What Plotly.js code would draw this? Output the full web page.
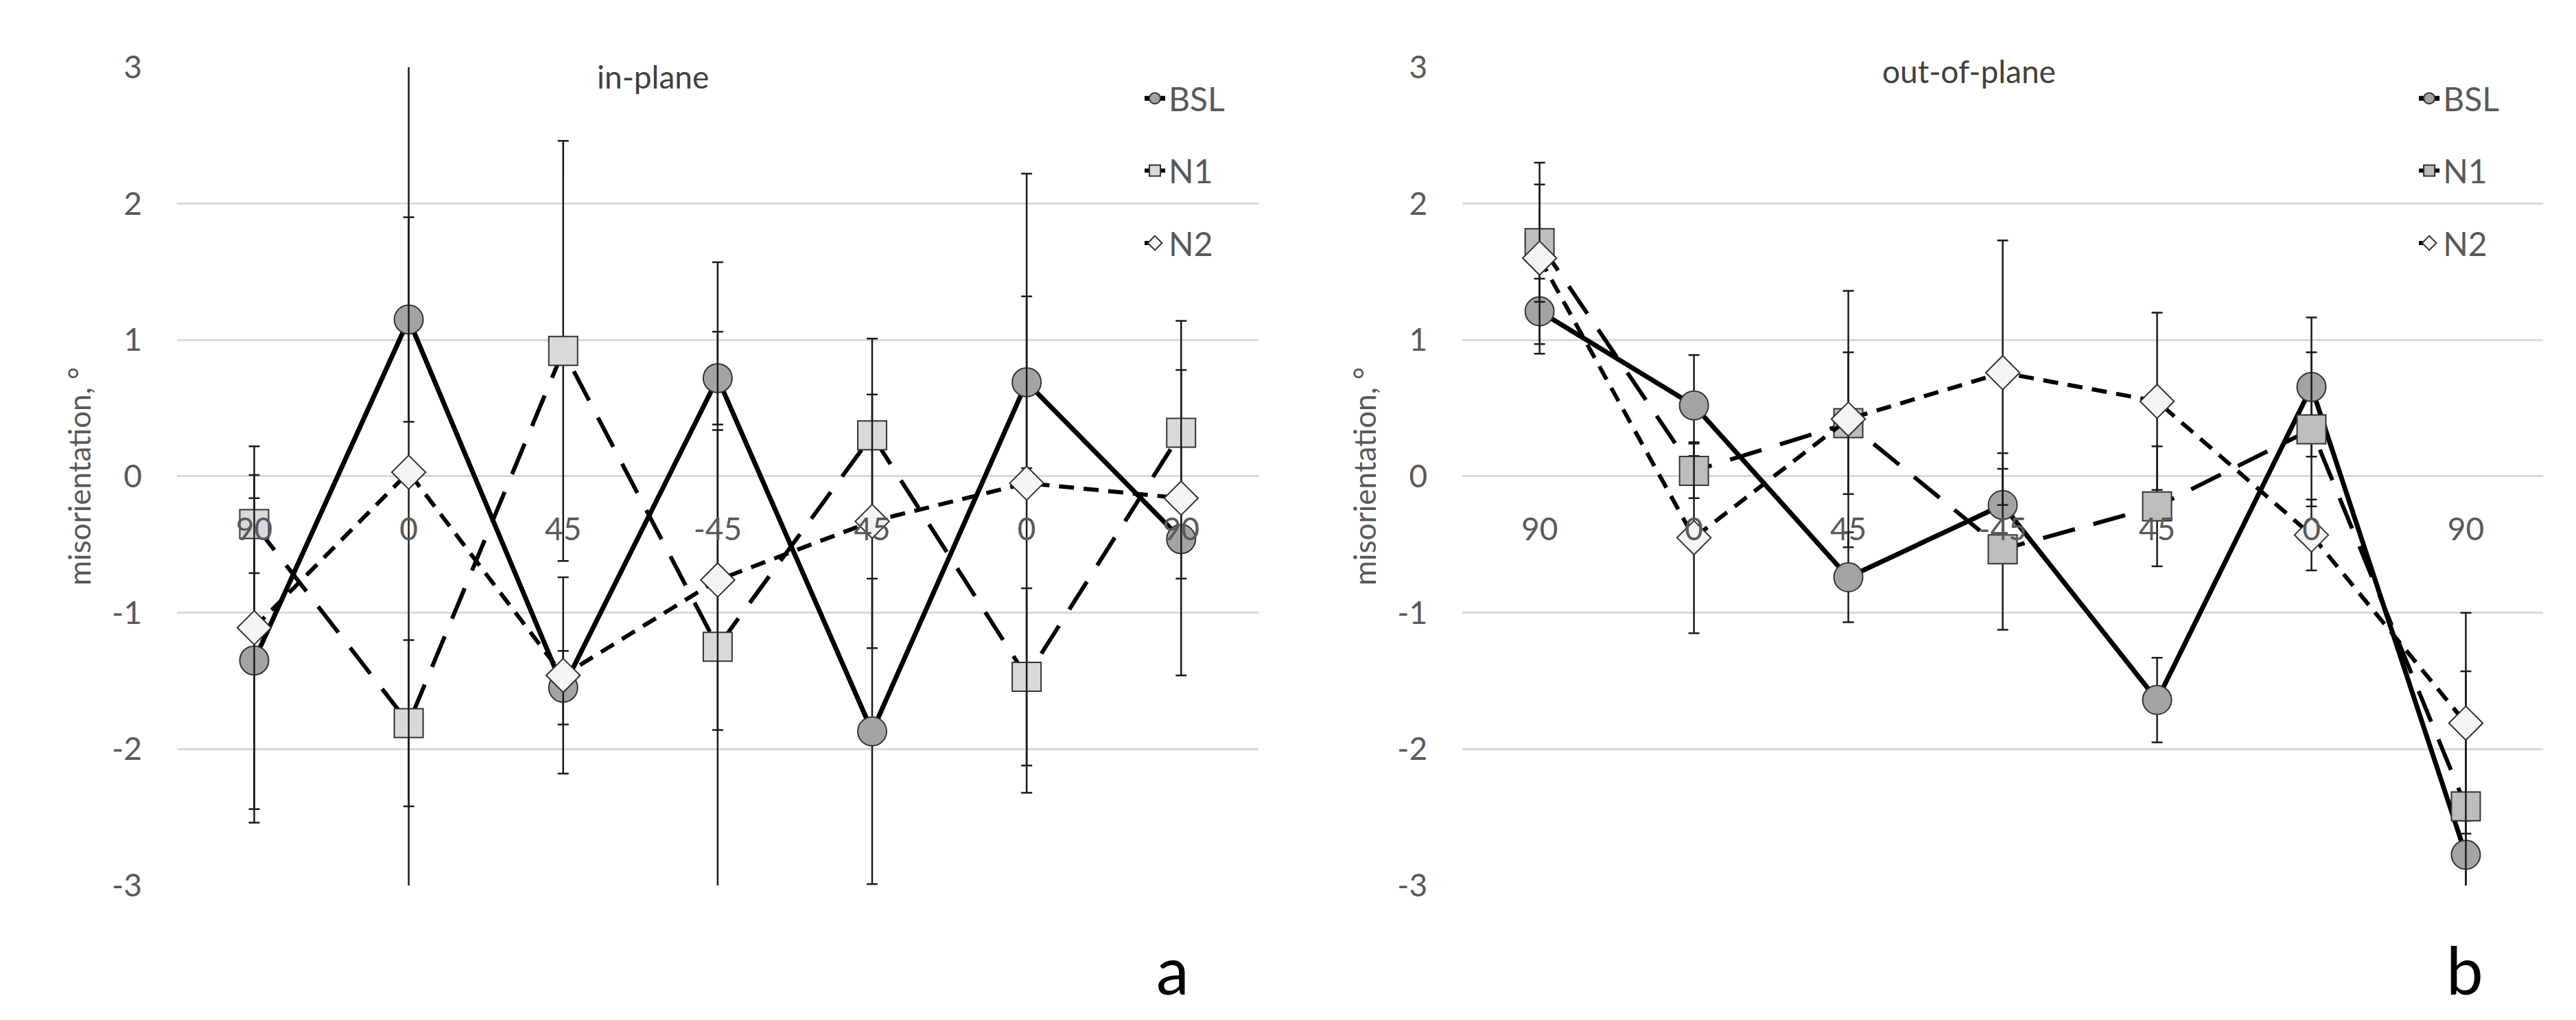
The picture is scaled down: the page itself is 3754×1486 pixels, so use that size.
<!DOCTYPE html>
<html>
<head>
<meta charset="utf-8">
<script src="https://cdn.plot.ly/plotly-3.0.1.min.js"></script>
<style>
  html, body { margin: 0; padding: 0; background: #fff; }
</style>
</head>
<body>
<div id="chart" style="width:3754px;height:1486px"></div>
<script>
// ply sequence along the x axis
const plyPos = [0, 1, 2, 3, 4, 5, 6];
const plyLabels = ['90', '0', '45', '-45', '45', '0', '90'];
const yTicks = [-3, -2, -1, 0, 1, 2, 3];
const yTickLabels = ['-3', '-2', '-1', '0', '1', '2', '3'];

// a: in-plane misorientation
const bslIn = [-1.35, 1.15, -1.55, 0.72, -1.87, 0.69, -0.46];
const bslInErr = [1.19, 0.75, 0.27, 0.34, 1.12, 0.63, 0.29];
const n1In = [-0.35, -1.81, 0.92, -1.25, 0.30, -1.47, 0.32];
const n1InErr = [0.36, 0.61, 1.54, 2.82, 0.71, 0.65, 0.46];
const n2In = [-1.11, 0.03, -1.46, -0.76, -0.33, -0.05, -0.16];
const n2InErr = [1.33, 3.3, 0.72, 1.1, 0.93, 2.27, 1.3];

// b: out-of-plane misorientation
const bslOut = [1.21, 0.52, -0.74, -0.21, -1.64, 0.655, -2.775];
const bslOutErr = [0.24, 0.37, 0.33, 0.38, 0.31, 0.51, 0.25];
const n1Out = [1.71, 0.04, 0.39, -0.535, -0.22, 0.345, -2.42];
const n1OutErr = [0.43, 0.2, 0.52, 0.59, 0.44, 0.565, 0.99];
const n2Out = [1.60, -0.45, 0.42, 0.76, 0.55, -0.43, -1.81];
const n2OutErr = [0.70, 0.7, 0.94, 0.97, 0.65, 0.26, 0.81];

const FONT = 'Lato, "Open Sans", sans-serif';
const GREY = '#595959';

function series(name, y, err, sty, xa, ya, legend) {
  return {
    type: 'scatter', mode: 'lines+markers', name: name,
    x: plyPos, y: y, xaxis: xa, yaxis: ya,
    legend: legend, legendgroup: legend + name,
    line: { color: '#000', width: sty.width, dash: sty.dash },
    marker: { symbol: sty.symbol, size: sty.size, color: sty.fill,
              line: { color: '#333', width: 2 } },
    error_y: { type: 'data', array: err, visible: true,
               color: '#1a1a1a', thickness: 2.5, width: 8 }
  };
}

const bslSty = { width: 7, dash: 'solid', symbol: 'circle', size: 42, fill: '#a3a3a3' };
const n1StyA = { width: 6, dash: '48px,28px', symbol: 'square', size: 42, fill: '#d9d9d9' };
const n1StyB = { width: 6, dash: '48px,28px', symbol: 'square', size: 42, fill: '#bdbdbd' };
const n2Sty = { width: 6, dash: '22px,14px', symbol: 'diamond', size: 38, fill: '#f4f4f4' };

const data = [
  series('BSL', bslIn, bslInErr, bslSty, 'x', 'y', 'legend'),
  series('N1', n1In, n1InErr, n1StyA, 'x', 'y', 'legend'),
  series('N2', n2In, n2InErr, n2Sty, 'x', 'y', 'legend'),
  series('BSL', bslOut, bslOutErr, bslSty, 'x2', 'y2', 'legend2'),
  series('N1', n1Out, n1OutErr, n1StyB, 'x2', 'y2', 'legend2'),
  series('N2', n2Out, n2OutErr, n2Sty, 'x2', 'y2', 'legend2')
];

const yDomain = [0.1319, 0.9341];

function xAxis(domain) {
  return {
    domain: domain, range: [-0.5, 6.5], anchor: 'free',
    position: 0.5330,
    tickmode: 'array', tickvals: plyPos, ticktext: plyLabels,
    showgrid: false, zeroline: false, showline: false, ticks: '',
    ticklabelstandoff: 46,
    tickfont: { family: FONT, size: 46, color: GREY }
  };
}

function yAxis(anchor) {
  return {
    domain: yDomain, range: [-3, 3], anchor: anchor,
    tickmode: 'array', tickvals: yTicks, ticktext: yTickLabels,
    showgrid: true, gridcolor: '#d9d9d9', gridwidth: 3,
    zeroline: false, showline: false, ticks: '',
    ticklabelstandoff: 50,
    tickfont: { family: FONT, size: 46, color: GREY },
    title: { text: 'misorientation, °', standoff: 16,
             font: { family: FONT, size: 44, color: GREY } }
  };
}

function legendBox(x) {
  return {
    x: x, y: 0.929, xanchor: 'left', yanchor: 'top',
    bgcolor: 'rgba(0,0,0,0)', tracegroupgap: 40,
    font: { family: FONT, size: 48, color: GREY }
  };
}

const layout = {
  width: 3754, height: 1486,
  margin: { l: 0, r: 0, t: 0, b: 0 },
  paper_bgcolor: '#fff', plot_bgcolor: '#fff',
  showlegend: true,
  xaxis: xAxis([0.0687, 0.4885]),
  yaxis: yAxis('x'),
  xaxis2: xAxis([0.5677, 0.9872]),
  yaxis2: yAxis('x2'),
  legend: legendBox(0.443),
  legend2: legendBox(0.9377),
  annotations: [
    { text: 'in-plane', xref: 'x', yref: 'y', x: 2.58, y: 2.93, showarrow: false,
      font: { family: FONT, size: 46, color: '#404040' } },
    { text: 'out-of-plane', xref: 'x2', yref: 'y2', x: 2.78, y: 2.97, showarrow: false,
      font: { family: FONT, size: 46, color: '#404040' } },
    { text: 'a', xref: 'paper', yref: 'paper', x: 0.4553, y: 0.01, yanchor: 'bottom',
      showarrow: false, font: { family: FONT, size: 96, color: '#000' } },
    { text: 'b', xref: 'paper', yref: 'paper', x: 0.9645, y: 0.01, yanchor: 'bottom',
      showarrow: false, font: { family: FONT, size: 96, color: '#000' } }
  ]
};

Plotly.newPlot('chart', data, layout, { staticPlot: true, displayModeBar: false });
</script>
</body>
</html>
